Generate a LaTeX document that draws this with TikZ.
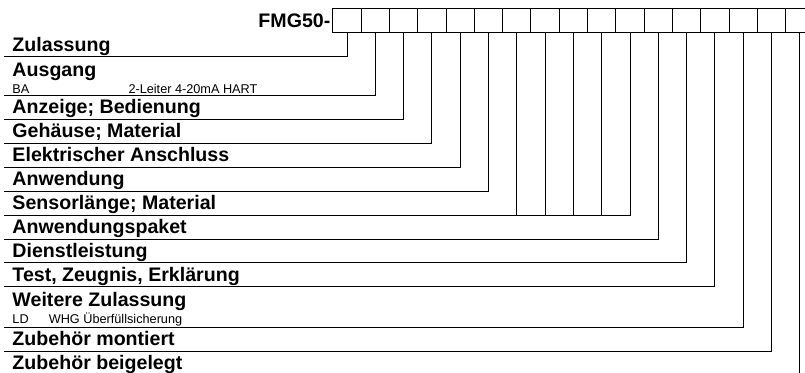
\documentclass[tikz,border=0pt]{standalone}
\usepackage{fontspec}
\setmainfont{Liberation Sans}
\usetikzlibrary{positioning}

\begin{document}
\begin{tikzpicture}[x=1pt, y=-1pt, line width=1pt,
        box/.style={rectangle, draw, minimum width=28.3pt, minimum height=23.8pt, inner sep=0pt},
        lab/.style={anchor=base west, inner sep=0pt, font=\fontsize{19.6}{22}\selectfont\bfseries},
        sublab/.style={anchor=base west, inner sep=0pt, font=\fontsize{12.7}{15}\selectfont}]
        \useasboundingbox (0,0) rectangle (805,372);
        \clip (0,0) rectangle (805,372);
        % order code
        \foreach \i in {0,...,16}
            \node (b\i) [box] at (347+28.3*\i, 20.4) {};
        \node (code) [left=1.5pt of b0, inner sep=0pt, font=\fontsize{19.6}{22}\selectfont\bfseries] {FMG50-};

        % features
        \node (zul) [lab] at (12,51) {Zulassung};
        \node (aus) [lab] at (12,76) {Ausgang};
        \node (ausba) [sublab] at (12,93) {BA};
        \node (ausbatxt) [sublab] at (128,93) {2-Leiter 4-20mA HART};
        \node (anz) [lab] at (12,113.6) {Anzeige; Bedienung};
        \node (geh) [lab] at (12,137.6) {Gehäuse; Material};
        \node (ela) [lab] at (12,161.8) {Elektrischer Anschluss};
        \node (anw) [lab] at (12,185.5) {Anwendung};
        \node (sen) [lab] at (12,209.3) {Sensorlänge; Material};
        \node (pak) [lab] at (12,233.3) {Anwendungspaket};
        \node (die) [lab] at (12,257) {Dienstleistung};
        \node (tes) [lab] at (12,281) {Test, Zeugnis, Erklärung};
        \node (wei) [lab] at (12,306) {Weitere Zulassung};
        \node (weild) [sublab] at (12,323) {LD};
        \node (weildtxt) [sublab] at (48.3,323) {WHG Überfüllsicherung};
        \node (mon) [lab] at (12,345.3) {Zubehör montiert};
        \node (bei) [lab] at (12,369.3) {Zubehör beigelegt};

        % line starts
        \coordinate (zulL) at (4,56.7);
        \coordinate (ausL) at (4,95.7);
        \coordinate (anzL) at (4,119.3);
        \coordinate (gehL) at (4,143.3);
        \coordinate (elaL) at (4,167.5);
        \coordinate (anwL) at (4,191.2);
        \coordinate (senL) at (4,215);
        \coordinate (pakL) at (4,239);
        \coordinate (dieL) at (4,262.7);
        \coordinate (tesL) at (4,286.7);
        \coordinate (weiL) at (4,327);
        \coordinate (monL) at (4,351);
        \coordinate (beiL) at (4,375);

        \draw (zulL) -| (b0.south);
        \draw (ausL) -| (b1.south);
        \draw (anzL) -| (b2.south);
        \draw (gehL) -| (b3.south);
        \draw (elaL) -| (b4.south);
        \draw (anwL) -| (b5.south);
        \draw (senL) -| (b10.south);
        \foreach \i in {6,...,9}
            \draw (b\i.south) -- (b\i.south |- senL);
        \draw (pakL) -| (b11.south);
        \draw (dieL) -| (b12.south);
        \draw (tesL) -| (b13.south);
        \draw (weiL) -| (b14.south);
        \draw (monL) -| (b15.south);
        \draw (beiL) -| (b16.south);
    \end{tikzpicture}
\end{document}
